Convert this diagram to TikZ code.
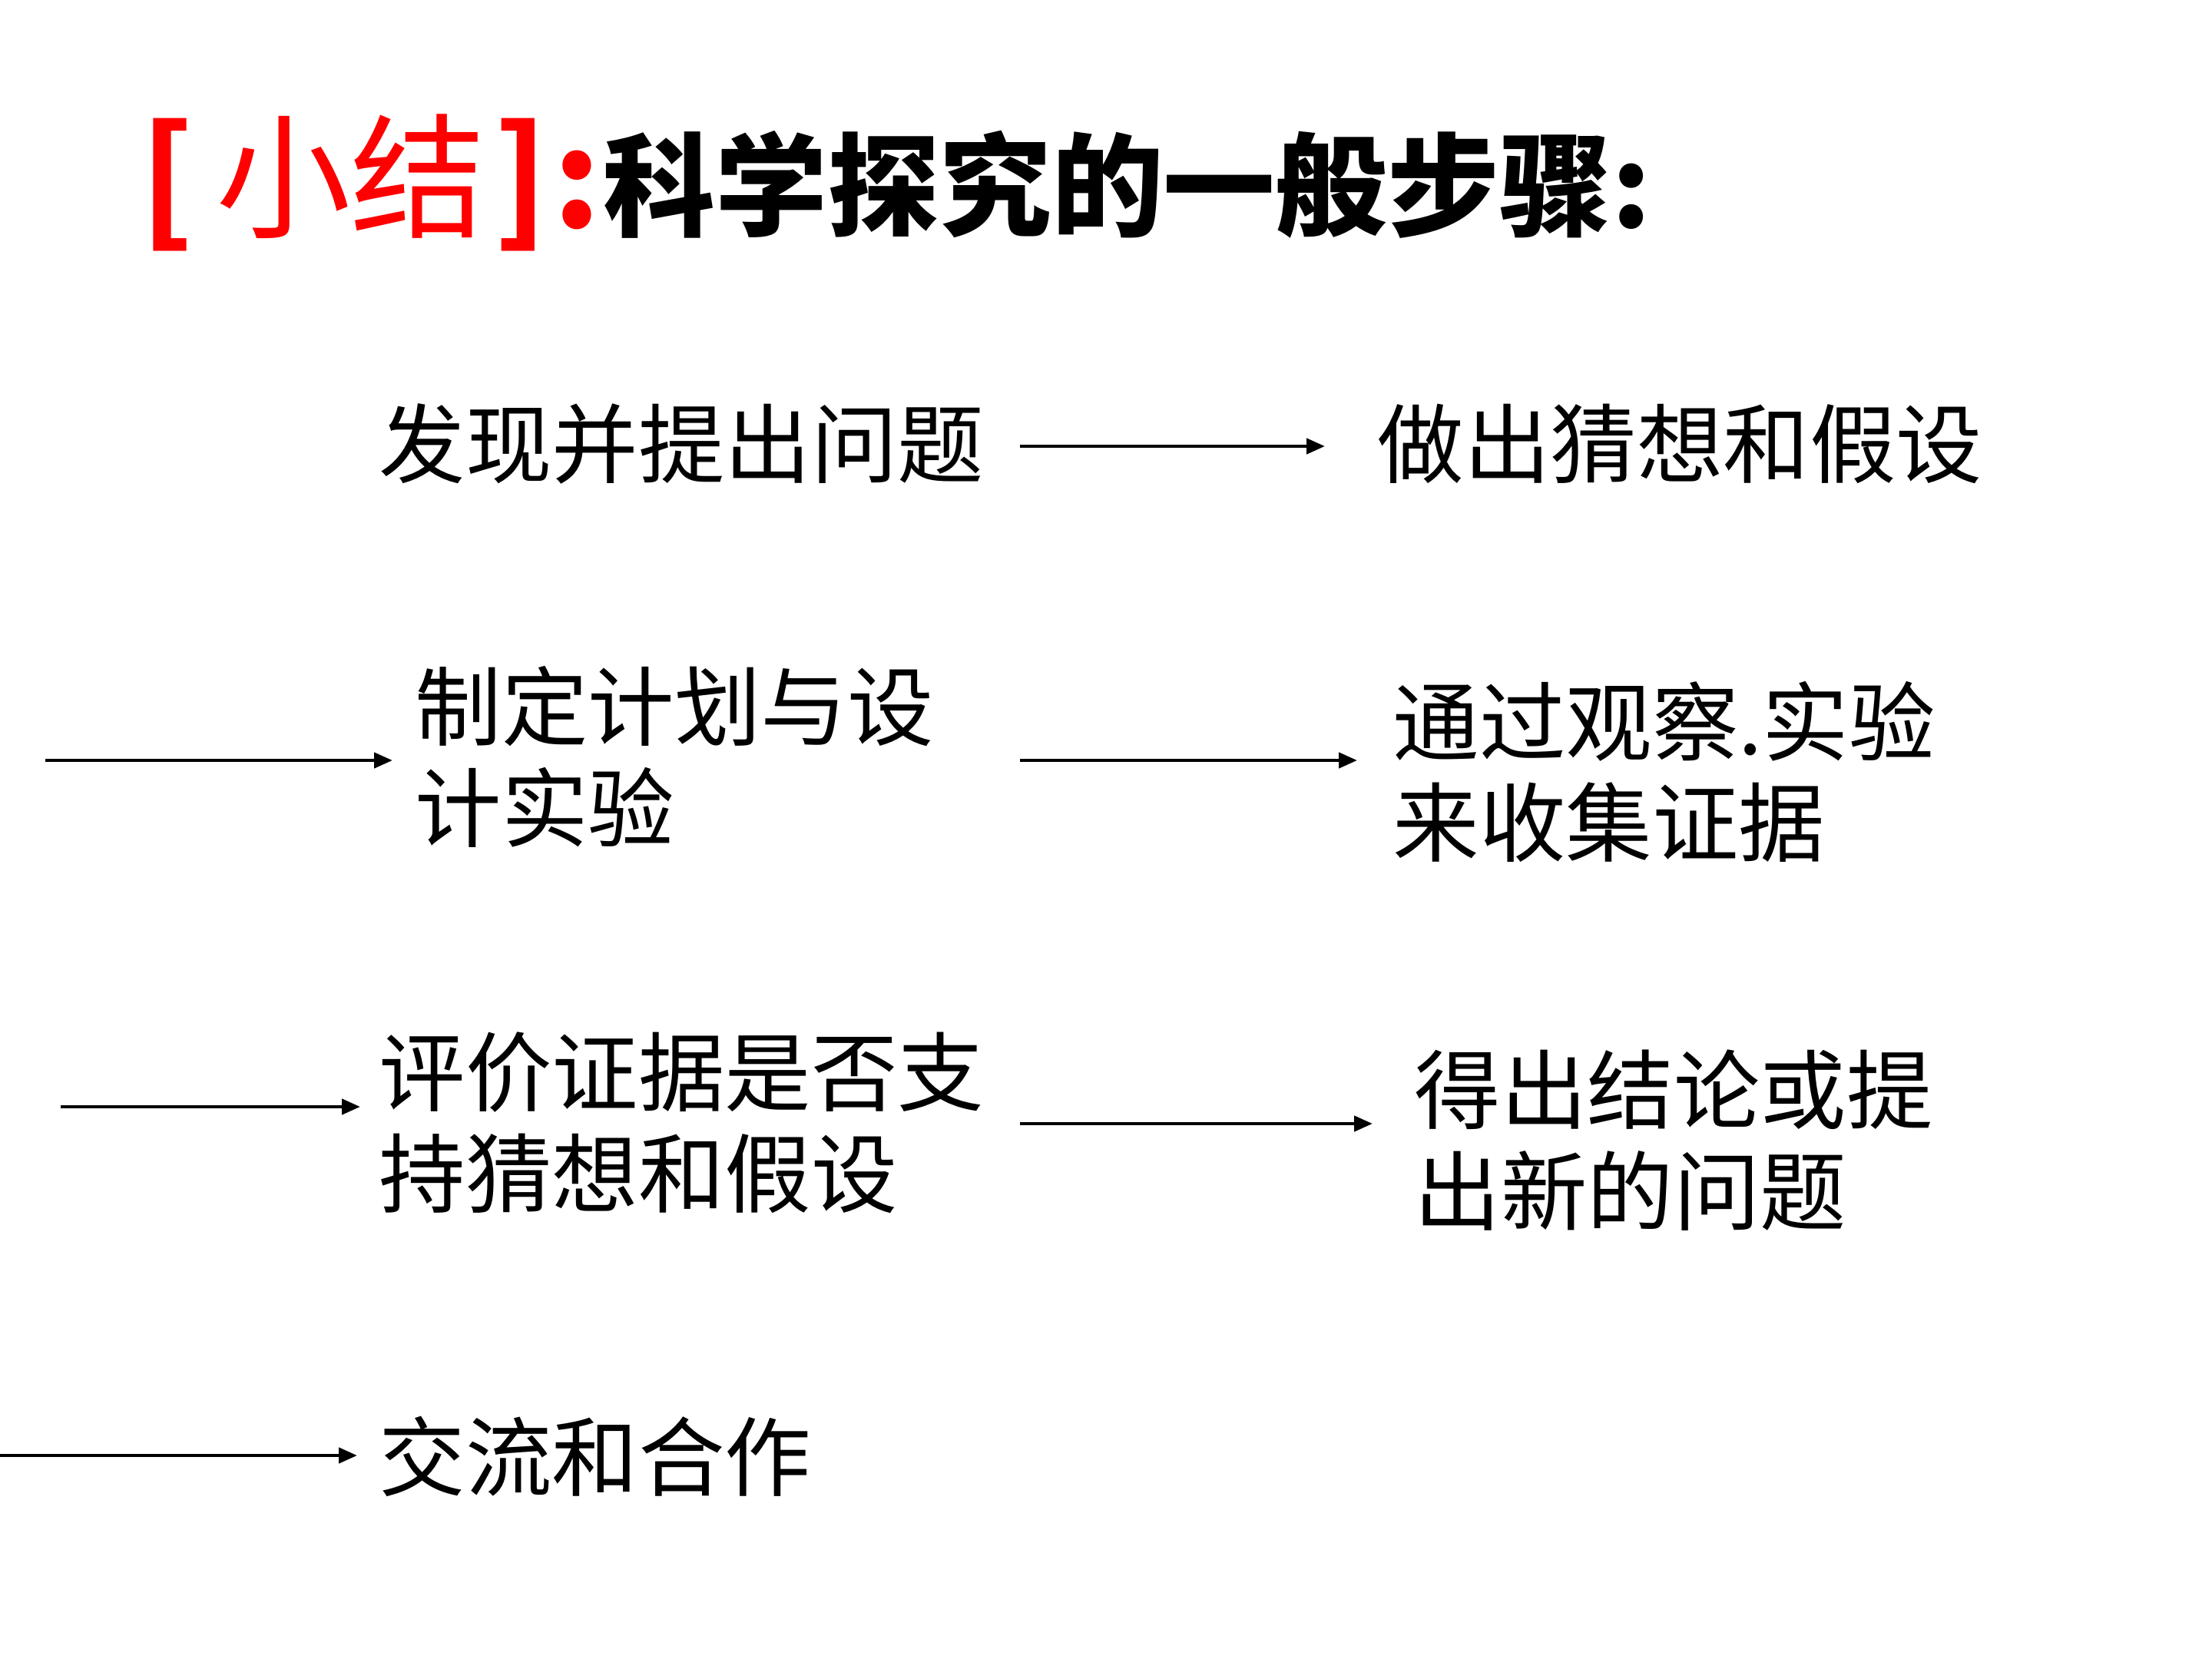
\documentclass[tikz,border=0pt]{standalone}
\usepackage{fontspec}
\setmainfont{Noto Sans CJK SC}
\usetikzlibrary{arrows.meta}
\tikzset{
  body/.style={anchor=west,inner sep=0pt,align=left,font=\fontsize{32}{37.5}\selectfont},
  flow/.style={line width=1.3pt,-{Triangle[length=0.24cm,width=0.2cm]}}
}
\begin{document}
\begin{tikzpicture}
\useasboundingbox (0,0) rectangle (28.8,-21.6);
\fill[white] (0,0) rectangle (28.8,-21.6);
% title
\node[anchor=base west,inner sep=0pt] (title) at (1.82,-2.97)
  {{\color{red}\fontsize{50}{55}\selectfont\textbf{[}\hspace{8pt}小结\hspace{3pt}\textbf{]}\hspace{2pt}\textbf{:}}\hspace{1pt}{\bfseries\fontsize{41.5}{48}\selectfont 科学探究的一般步骤:}};
% steps
\node[body] (s1) at (4.93,-5.78) {发现并提出问题};
\node[body] (s2) at (17.93,-5.78) {做出猜想和假设};
\node[body] (s3) at (5.40,-9.85) {制定计划与设\\计实验};
\node[body] (s4) at (18.13,-10.05) {通过观察.实验\\来收集证据};
\node[body] (s5) at (4.93,-14.62) {评价证据是否支\\持猜想和假设};
\node[body] (s6) at (18.41,-14.85) {得出结论或提\\出新的问题};
\node[body] (s7) at (4.93,-18.96) {交流和合作};
% arrow ends
\coordinate (a1s) at (13.28,-5.81);  \coordinate (a1e) at (17.25,-5.81);
\coordinate (a2s) at (0.59,-9.90);   \coordinate (a2e) at (5.11,-9.90);
\coordinate (a3s) at (13.28,-9.90);  \coordinate (a3e) at (17.67,-9.90);
\coordinate (a4s) at (0.79,-14.41);  \coordinate (a4e) at (4.69,-14.41);
\coordinate (a5s) at (13.28,-14.63); \coordinate (a5e) at (17.87,-14.63);
\coordinate (a6s) at (0,-18.95);     \coordinate (a6e) at (4.65,-18.95);
\draw[flow] (a1s) -- (a1e);
\draw[flow] (a2s) -- (a2e);
\draw[flow] (a3s) -- (a3e);
\draw[flow] (a4s) -- (a4e);
\draw[flow] (a5s) -- (a5e);
\draw[flow] (a6s) -- (a6e);
\end{tikzpicture}
\end{document}
